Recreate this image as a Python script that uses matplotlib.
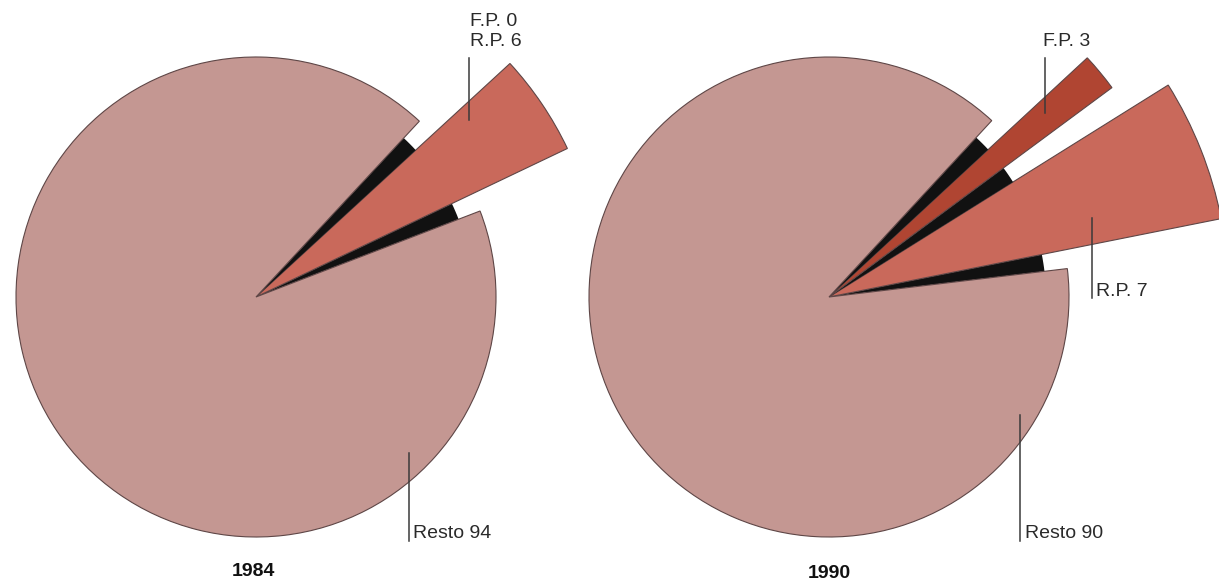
import matplotlib.pyplot as plt
from matplotlib.patches import Wedge

# Reparto (%) por año
years = ['1984', '1990']
resto = [94, 90]
rp = [6, 7]
fp = [0, 3]

W, H = 1219, 582
DEG = 3.6      # grados por punto porcentual
SHADE = 4.5    # ancho angular de cada sombra negra

col_resto = '#c49792'
col_rp = '#c9695b'
col_fp = '#b04532'
col_edge = '#5e4646'

centros = [(256, 297), (829, 297)]
r_base = 240
r_sombra = 217
r_rp = [345, 400]
r_fp = [352, 352]
ang_inicio = [21.0, 6.8]   # borde inferior del hueco


def Y(py):
    return H - py


fig = plt.figure(figsize=(W / 100, H / 100), dpi=100)
ax = fig.add_axes([0, 0, 1, 1])
ax.set_xlim(0, W)
ax.set_ylim(0, H)
ax.set_aspect('equal')
ax.axis('off')

for i in range(len(years)):
    cx, cy = centros[i]
    c = (cx, Y(cy))
    a = ang_inicio[i]
    # porciones destacadas, de abajo hacia arriba: R.P. y luego F.P.
    partes = [(rp[i], r_rp[i], col_rp), (fp[i], r_fp[i], col_fp)]
    for val, rad, col in partes:
        ancho = val * DEG - SHADE
        if ancho <= 0:
            continue
        ax.add_patch(Wedge(c, r_sombra, a, a + SHADE, facecolor='#111111', edgecolor='none'))
        a += SHADE
        ax.add_patch(Wedge(c, rad, a, a + ancho, facecolor=col, edgecolor=col_edge, lw=0.8))
        a += ancho
    ax.add_patch(Wedge(c, r_sombra, a, a + SHADE, facecolor='#111111', edgecolor='none'))
    a += SHADE
    # resto del círculo
    ax.add_patch(Wedge(c, r_base, a, ang_inicio[i] + 360, facecolor=col_resto,
                       edgecolor=col_edge, lw=0.8))

txt = dict(family='Liberation Sans', fontsize=14, color='#2a2a2a')
linea = dict(color='#3a3a3a', lw=1.1)

# 1984
ax.plot([469, 469], [Y(58), Y(120)], **linea)
ax.text(470, Y(22), f'F.P. {fp[0]}', va='center', ha='left', **txt)
ax.text(470, Y(41), f'R.P. {rp[0]}', va='center', ha='left', **txt)
ax.plot([409, 409], [Y(453), Y(541)], **linea)
ax.text(413, Y(533), f'Resto {resto[0]}', va='center', ha='left', **txt)
ax.text(253, Y(571), years[0], va='center', ha='center', fontweight='bold',
        family='Liberation Sans', fontsize=14, color='#111111')

# 1990
ax.plot([1045, 1045], [Y(58), Y(113)], **linea)
ax.text(1043, Y(41), f'F.P. {fp[1]}', va='center', ha='left', **txt)
ax.plot([1092, 1092], [Y(218), Y(298)], **linea)
ax.text(1096, Y(291), f'R.P. {rp[1]}', va='center', ha='left', **txt)
ax.plot([1020, 1020], [Y(415), Y(541)], **linea)
ax.text(1025, Y(533), f'Resto {resto[1]}', va='center', ha='left', **txt)
ax.text(829, Y(574), years[1], va='center', ha='center', fontweight='bold',
        family='Liberation Sans', fontsize=14, color='#111111')

plt.savefig('out.png', dpi=100)
plt.close()
